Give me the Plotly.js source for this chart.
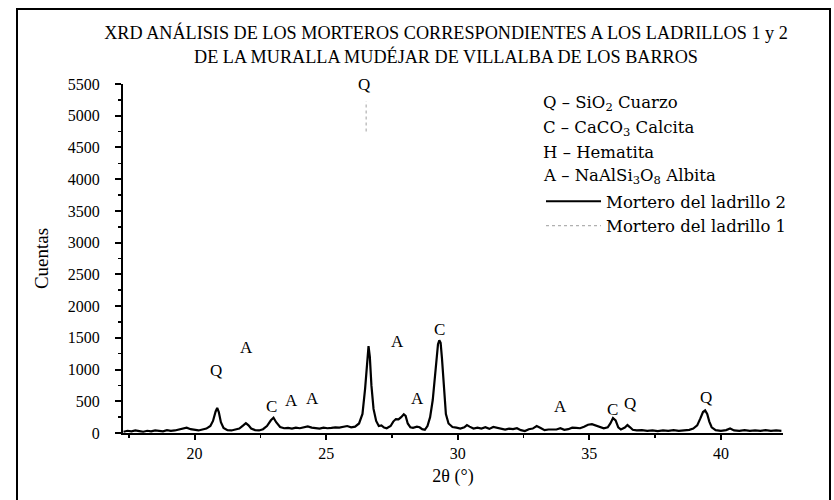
<!DOCTYPE html>
<html>
<head>
<meta charset="utf-8">
<script src="https://cdn.plot.ly/plotly-3.0.1.min.js"></script>
<style>
html,body{margin:0;padding:0;background:#fff;}
#chart{width:834px;height:500px;}
</style>
</head>
<body>
<div id="chart"></div>
<script>
// ---- data ----
const twoTheta2 = [17.30,17.45,17.60,17.75,17.90,18.05,18.20,18.35,18.50,18.65,18.80,18.95,19.10,19.25,19.40,19.55,19.70,19.85,20.00,20.15,20.30,20.45,20.60,20.70,20.80,20.86,20.92,21.00,21.10,21.25,21.40,21.55,21.70,21.85,21.95,22.05,22.15,22.30,22.45,22.60,22.75,22.90,23.00,23.10,23.25,23.40,23.55,23.70,23.85,24.00,24.15,24.30,24.45,24.60,24.75,24.90,25.05,25.20,25.35,25.50,25.65,25.80,25.95,26.10,26.25,26.38,26.48,26.55,26.61,26.66,26.72,26.80,26.90,27.00,27.10,27.20,27.30,27.45,27.55,27.65,27.75,27.85,27.95,28.02,28.10,28.20,28.30,28.45,28.55,28.65,28.75,28.85,28.95,29.05,29.15,29.25,29.30,29.35,29.40,29.47,29.55,29.65,29.80,29.95,30.10,30.25,30.35,30.45,30.60,30.75,30.90,31.05,31.20,31.35,31.50,31.65,31.80,31.95,32.10,32.25,32.40,32.55,32.70,32.85,33.00,33.15,33.30,33.45,33.60,33.75,33.90,34.05,34.20,34.35,34.50,34.65,34.80,34.95,35.10,35.25,35.40,35.55,35.70,35.80,35.90,36.00,36.10,36.20,36.35,36.45,36.55,36.65,36.80,37.00,37.20,37.40,37.60,37.80,38.00,38.20,38.40,38.60,38.80,38.95,39.10,39.22,39.32,39.40,39.48,39.56,39.65,39.80,40.00,40.20,40.35,40.50,40.70,40.90,41.10,41.30,41.50,41.70,41.90,42.10,42.30];
const counts2 = [20,35,25,40,30,20,35,25,40,30,25,45,35,40,55,60,85,60,45,40,55,70,110,190,340,395,330,170,80,45,40,55,70,120,155,120,70,45,40,60,110,200,240,170,95,75,80,70,85,75,90,105,85,80,70,85,75,80,90,85,95,110,90,100,150,300,700,1150,1370,1200,750,380,190,110,120,85,75,110,180,220,215,250,295,270,150,90,80,100,90,60,50,110,250,520,950,1400,1460,1420,1180,700,300,150,95,85,70,90,125,100,70,85,70,90,65,95,80,60,55,70,60,75,45,30,60,70,110,80,45,55,60,55,75,50,60,85,80,75,100,130,140,120,95,75,90,150,235,200,90,55,85,125,90,50,40,45,35,40,30,40,35,45,35,40,50,70,120,230,330,355,300,180,90,45,35,45,70,40,35,45,35,40,35,45,35,40,35];
// Mortero del ladrillo 1: only its faint dotted quartz peak is visible
const twoTheta1 = [26.52, 26.52];
const counts1 = [4750, 5230];

const peakLabels = ['Q','A','C','A','A','Q','A','A','C','A','C','Q','Q'];
const peakX = [20.83,21.96,22.92,23.68,24.47,26.45,27.70,28.46,29.32,33.92,35.88,36.56,39.42];
const peakY = [990,1355,415,510,545,5490,1440,547,1625,415,363,468,563];

const phaseLines = ['Q – SiO<sub>2</sub> Cuarzo','C – CaCO<sub>3</sub> Calcita','H – Hematita','A – NaAlSi<sub>3</sub>O<sub>8</sub> Albita'];
const xTicks = [20,25,30,35,40];
const yTicks = [0,500,1000,1500,2000,2500,3000,3500,4000,4500,5000,5500];
const seriesNames = ['Mortero del ladrillo 2','Mortero del ladrillo 1'];
const titleText = 'XRD ANÁLISIS DE LOS MORTEROS CORRESPONDIENTES A LOS LADRILLOS 1 y 2<br>DE LA MURALLA MUDÉJAR DE VILLALBA DE LOS BARROS';

const SERIF = 'Liberation Serif, Times New Roman, serif';
const WIDESERIF = 'DejaVu Serif, Liberation Serif, serif';
const W = 834, H = 500;
const px = v => v / W;          // pixel -> paper x
const py = v => 1 - v / H;      // pixel -> paper y

const traces = [
  {x: twoTheta1, y: counts1, name: seriesNames[1], mode: 'lines', legendrank: 2,
   line: {color: '#b0b0b0', width: 1.2, dash: 'dot'}},
  {x: twoTheta2, y: counts2, name: seriesNames[0], mode: 'lines', legendrank: 1,
   line: {color: '#000', width: 2.2}},
  // empty trace that carries the outer page-frame axes
  {x: [], y: [], xaxis: 'x2', yaxis: 'y2', mode: 'lines', showlegend: false, hoverinfo: 'skip'}
];

const rowY = [104, 128, 152, 176];
const annotations = [];
peakLabels.forEach((t, i) => annotations.push({
  x: peakX[i], y: peakY[i], xref: 'x', yref: 'y', text: t, showarrow: false,
  font: {family: SERIF, size: 17, color: '#000'}, xanchor: 'center', yanchor: 'middle'
}));
phaseLines.forEach((t, i) => annotations.push({
  x: px(541), y: py(rowY[i]), xref: 'paper', yref: 'paper', text: t,
  showarrow: false, xanchor: 'left', yanchor: 'middle',
  font: {family: WIDESERIF, size: 16.5, color: '#000'}
}));

const frameAxis = {showline: true, linecolor: '#000', linewidth: 2, showgrid: false, zeroline: false,
                   showticklabels: false, ticks: '', range: [0, 1], fixedrange: true, automargin: false};

const layout = {
  width: W, height: H,
  margin: {l: 0, r: 0, t: 0, b: 0, pad: 0},
  paper_bgcolor: '#fff', plot_bgcolor: 'rgba(0,0,0,0)',
  font: {family: SERIF, color: '#000', size: 16},
  title: {text: titleText, x: 446 / W, xanchor: 'center', xref: 'container',
          y: 1 - 39 / H, yanchor: 'top', font: {family: SERIF, size: 18.2, color: '#000'}},
  showlegend: true,
  legend: {x: px(541), y: py(184), xanchor: 'left', yanchor: 'top',
           bgcolor: 'rgba(0,0,0,0)', itemwidth: 55, traceorder: 'normal',
           font: {family: WIDESERIF, size: 16.5, color: '#000'}},
  xaxis: {domain: [px(123), px(783)], anchor: 'y',
          range: [17.28, 42.36], showline: true, linecolor: '#000', linewidth: 2,
          tickvals: xTicks, ticks: 'outside', ticklen: 5, tickwidth: 2, tickcolor: '#000',
          minor: {dtick: 2.5, tick0: 0, ticks: 'outside', ticklen: 3, tickwidth: 1.5, tickcolor: '#000'},
          showgrid: false, zeroline: false, ticklabelstandoff: 0, automargin: false,
          tickfont: {family: SERIF, size: 16, color: '#000'},
          title: {text: '2θ (°)', standoff: 8, font: {family: SERIF, size: 18, color: '#000'}}},
  yaxis: {domain: [py(433), py(84)], anchor: 'x',
          range: [0, 5500], showline: true, linecolor: '#000', linewidth: 2,
          tickvals: yTicks, ticks: 'outside', ticklen: 6, tickwidth: 2, tickcolor: '#000',
          minor: {dtick: 250, tick0: 0, ticks: 'outside', ticklen: 3, tickwidth: 1.5, tickcolor: '#000'},
          showgrid: false, zeroline: false, ticklabelstandoff: 12, automargin: false,
          tickfont: {family: SERIF, size: 16, color: '#000'},
          title: {text: 'Cuentas', standoff: 14, font: {family: SERIF, size: 19, color: '#000'}}},
  // outer page frame: top, left and right edges (the bottom edge lies below the picture)
  xaxis2: Object.assign({}, frameAxis, {domain: [px(18), px(829)], anchor: 'y2', side: 'top'}),
  yaxis2: Object.assign({}, frameAxis, {domain: [0, py(10)], anchor: 'x2', side: 'left', mirror: true}),
  annotations: annotations
};

Plotly.newPlot('chart', traces, layout, {displayModeBar: false, staticPlot: true});
</script>
</body>
</html>
